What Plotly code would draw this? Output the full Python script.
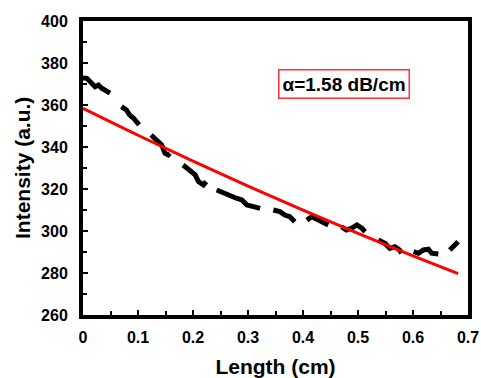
import plotly.graph_objects as go

# Measured intensity (segments separated by None where the dashed line has gaps)
length_cm = [0.000, 0.007, 0.022, 0.028, 0.034, 0.049, None,
             0.070, 0.079, 0.085, 0.092, 0.102, None,
             0.124, 0.134, 0.143, 0.149, 0.155, 0.158, None,
             0.182, 0.195, 0.204, 0.210, 0.219, 0.224, None,
             0.243, 0.255, 0.267, 0.279, 0.289, 0.298, 0.310, 0.322, None,
             0.346, 0.358, 0.367, 0.376, 0.385, None,
             0.407, 0.416, 0.428, 0.440, 0.446, None,
             0.470, 0.479, 0.488, 0.498, 0.507, 0.513, None,
             0.537, 0.549, 0.558, 0.567, 0.576, 0.579, None,
             0.601, 0.610, 0.619, 0.628, 0.634, 0.646, None,
             0.667, 0.673, 0.682]
intensity = [372.9, 372.7, 368.7, 369.5, 368.0, 365.6, None,
             359.2, 357.6, 355.2, 353.7, 350.5, None,
             345.7, 343.3, 341.0, 337.0, 336.2, 337.0, None,
             331.4, 329.0, 326.7, 323.5, 321.9, 323.5, None,
             319.5, 318.0, 317.1, 315.6, 314.8, 312.4, 311.6, 310.8, None,
             310.0, 309.2, 307.6, 306.8, 304.4, None,
             305.2, 306.8, 305.2, 303.7, 302.9, None,
             302.0, 300.5, 301.3, 302.9, 301.3, 299.7, None,
             295.7, 294.1, 291.7, 292.5, 290.9, 289.4, None,
             290.2, 289.4, 291.0, 291.3, 289.4, 289.0, None,
             291.0, 292.5, 294.9]

# Fit curve
fit_x = [0.0, 0.1, 0.2, 0.3, 0.4, 0.5, 0.6, 0.682]
fit_y = [358.4, 345.6, 333.3, 321.4, 309.9, 298.9, 288.2, 279.7]

x_ticks = [0, 0.1, 0.2, 0.3, 0.4, 0.5, 0.6, 0.7]
x_tick_labels = ["0", "0.1", "0.2", "0.3", "0.4", "0.5", "0.6", "0.7"]
y_ticks = [260, 280, 300, 320, 340, 360, 380, 400]

annotation_text = "α=1.58 dB/cm"
x_title = "Length (cm)"
y_title = "Intensity (a.u.)"

fig = go.Figure()
fig.add_trace(go.Scatter(x=length_cm, y=intensity, mode="lines",
                         line=dict(color="black", width=5),
                         connectgaps=False, showlegend=False, hoverinfo="skip"))
fig.add_trace(go.Scatter(x=fit_x, y=fit_y, mode="lines", line_shape="spline",
                         line=dict(color="#ff0000", width=3), showlegend=False, hoverinfo="skip"))

font_bold = "Liberation Sans, Arial, sans-serif"
axis_common = dict(showline=True, linecolor="black", linewidth=4, mirror=True,
                   ticks="inside", ticklen=5, tickwidth=2, tickcolor="black",
                   showgrid=False, zeroline=False, automargin=False,
                   ticklabeloverflow="allow",
                   tickfont=dict(family=font_bold, size=16, color="black", weight="bold"))

fig.update_xaxes(range=[0, 0.7], tickvals=x_ticks, ticktext=x_tick_labels,
                 ticklabelstandoff=5,
                 minor=dict(ticks="inside", ticklen=4, tickwidth=2, tickcolor="black", dtick=0.05, tick0=0),
                 title=dict(text="<b>" + x_title + "</b>", font=dict(family=font_bold, size=21, color="black"), standoff=15),
                 **axis_common)
fig.update_yaxes(range=[260, 400], tickvals=y_ticks,
                 ticklabelstandoff=8,
                 minor=dict(ticks="inside", ticklen=4, tickwidth=2, tickcolor="black", dtick=10, tick0=260),
                 **axis_common)

# y-axis title as a rotated annotation so it can sit as close to the edge as in the reference
fig.add_annotation(x=0, y=0.5, xref="paper", yref="paper", xshift=-61, textangle=-90,
                   text="<b>" + y_title + "</b>", showarrow=False,
                   font=dict(family=font_bold, size=21, color="black"),
                   xanchor="center", yanchor="middle")

fig.add_annotation(x=0.475, y=370, xref="x", yref="y", text="<b>" + annotation_text + "</b>",
                   showarrow=False, font=dict(family=font_bold, size=19, color="black"),
                   bordercolor="#ff3333", borderwidth=1.5, borderpad=3, bgcolor="white")

fig.update_layout(width=481, height=378, margin=dict(l=83, r=13, t=21, b=63),
                  plot_bgcolor="white", paper_bgcolor="white")

# remove the browser's default 8px body margin so the figure fills the window exactly
fig.write_html("out.html", config={"displayModeBar": False},
               post_script="document.body.style.margin='0px';")
